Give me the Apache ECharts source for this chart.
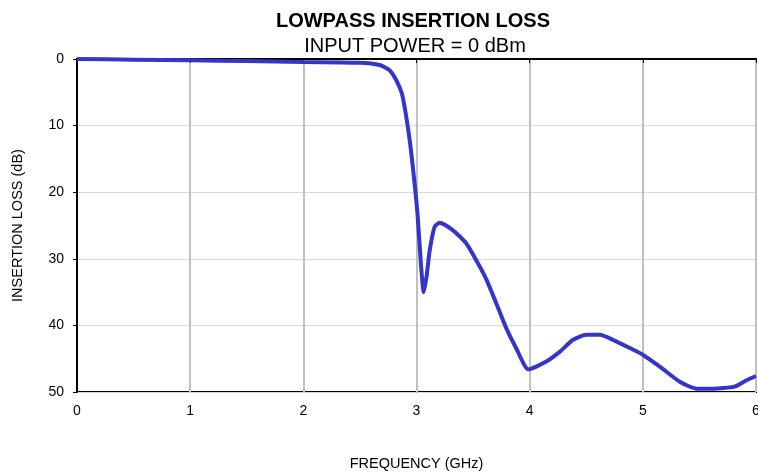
<!DOCTYPE html>
<html><head><meta charset="utf-8">
<script src="https://cdn.jsdelivr.net/npm/echarts@6/dist/echarts.min.js"></script>
<style>html,body{margin:0;padding:0;background:#fff}#c{width:758px;height:476px}</style>
</head><body><div id="c"></div>
<script>
const freqGHz = [0, 0.5, 1, 1.5, 2, 2.5, 2.675, 2.76, 2.82, 2.87, 2.9, 2.94, 2.98, 3.01, 3.04, 3.064, 3.09, 3.117, 3.16, 3.205, 3.32, 3.44, 3.56, 3.62, 3.71, 3.79, 3.88, 3.99, 4.15, 4.27, 4.38, 4.5, 4.62, 4.74, 4.885, 5.0, 5.15, 5.33, 5.475, 5.62, 5.81, 5.92, 6.0];
const lossDB  = [0, 0.1, 0.2, 0.3, 0.45, 0.55, 0.9, 1.65, 3.15, 5.15, 7.7, 12.2, 18.2, 23.5, 31.0, 35.0, 32.5, 28.7, 25.2, 24.6, 25.7, 27.7, 31.2, 33.2, 36.9, 40.3, 43.4, 46.6, 45.4, 43.9, 42.2, 41.4, 41.4, 42.2, 43.4, 44.4, 46.2, 48.5, 49.5, 49.5, 49.2, 48.2, 47.6];
const xTicks = [0, 1, 2, 3, 4, 5, 6];
const yTicks = [0, 10, 20, 30, 40, 50];

const chart = echarts.init(document.getElementById('c'), null, {renderer: 'canvas'});
const font = 'Liberation Sans, Arial, sans-serif';
chart.setOption({
  animation: false,
  title: [
    {text: 'LOWPASS INSERTION LOSS', left: 408, top: 6, textAlign: 'center',
     textStyle: {fontFamily: font, fontSize: 20, fontWeight: 'bold', color: '#000'}},
    {text: 'INPUT POWER = 0 dBm', left: 410, top: 31, textAlign: 'center',
     textStyle: {fontFamily: font, fontSize: 20, fontWeight: 'normal', color: '#000'}}
  ],
  grid: {left: 77, right: 2, top: 59, bottom: 84, show: true, borderColor: '#000', borderWidth: 2,
         containLabel: false, outerBoundsMode: 'none'},
  xAxis: {
    type: 'value', min: xTicks[0], max: xTicks[xTicks.length - 1], interval: 1,
    name: 'FREQUENCY (GHz)', nameLocation: 'middle', nameGap: 64,
    nameTextStyle: {fontFamily: font, fontSize: 14.5, color: '#000'},
    axisLine: {show: true, lineStyle: {color: '#000', width: 2}},
    axisTick: {show: true, length: 4, inside: false, lineStyle: {color: '#000', width: 1}},
    axisLabel: {fontFamily: font, fontSize: 14, color: '#000', margin: 12},
    splitLine: {show: true, lineStyle: {color: '#c0c0c0', width: 2}}
  },
  yAxis: {
    type: 'value', inverse: true, min: yTicks[0], max: yTicks[yTicks.length - 1], interval: 10,
    name: 'INSERTION LOSS (dB)', nameLocation: 'middle', nameGap: 52, nameRotate: 90,
    nameTextStyle: {fontFamily: font, fontSize: 14.5, color: '#000'},
    axisLine: {show: true, lineStyle: {color: '#000', width: 2}},
    axisTick: {show: true, length: 4, lineStyle: {color: '#000', width: 1}},
    axisLabel: {fontFamily: font, fontSize: 14, color: '#000', margin: 13},
    splitLine: {show: true, lineStyle: {color: '#d9d9d9', width: 1}}
  },
  series: [{
    type: 'line', data: freqGHz.map((f, i) => [f, lossDB[i]]),
    showSymbol: false, smooth: 0.2, clip: true,
    lineStyle: {color: '#3535cc', width: 4}
  }]
});
</script></body></html>
